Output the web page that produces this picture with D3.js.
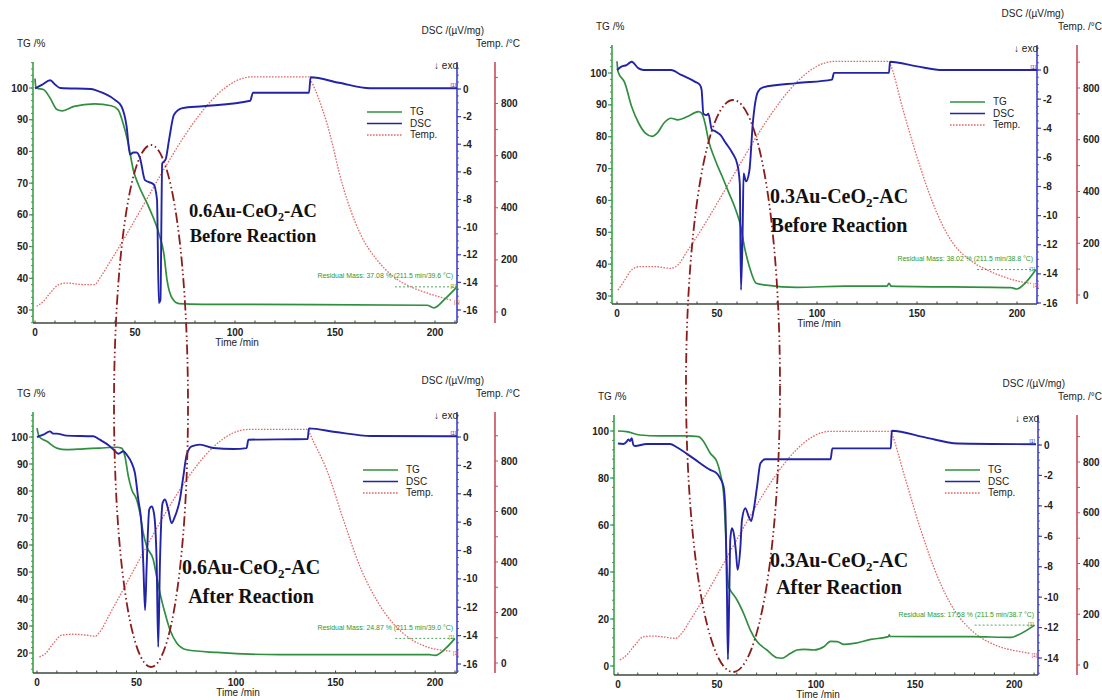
<!DOCTYPE html>
<html lang="en">
<head>
<meta charset="utf-8">
<style>
  body { margin: 0; background: #fff; }
  svg { background: #fff; font-family: Arial, "Liberation Sans", sans-serif; }
  .tick-label { font-size: 10px; font-weight: bold; fill: #222; }
  .axis-title { font-size: 10px; fill: #222; }
  .legend-text { font-size: 10px; fill: #222; }
  .title { font-family: "Liberation Serif", "Times New Roman", serif; font-weight: bold; fill: #111; }
  .residual { font-size: 6.9px; fill: #2a9a2a; }
</style>
<script src="https://d3js.org/d3.v7.min.js"></script>
</head>
<body>
<script>
// ---- data: [time /min, value] ----
var timeTicks = [0, 50, 100, 150, 200];
var tempTicks = [0, 200, 400, 600, 800];
var tgTicks06b = [30, 40, 50, 60, 70, 80, 90, 100];
var tgTicks03b = [30, 40, 50, 60, 70, 80, 90, 100];
var tgTicks06a = [20, 30, 40, 50, 60, 70, 80, 90, 100];
var tgTicks03a = [0, 20, 40, 60, 80, 100];
var dscTicks16 = [0, -2, -4, -6, -8, -10, -12, -14, -16];
var dscTicks14 = [0, -2, -4, -6, -8, -10, -12, -14];
var legendNames = ["TG", "DSC", "Temp."];

// 0.6Au-CeO2-AC before reaction
var tg06b = [[0,103],[0.5,100],[4.2,99.5],[7.6,96.8],[11,93.2],[13.6,92.8],[19.5,94.2],[29.7,95],[38.1,94.4],[41.5,93.2],[44,89],[46.6,82.6],[49.2,74],[51.7,69.5],[56.8,62.6],[61.9,54.2],[64.4,47.9],[66,39.5],[68.6,33.7],[72,32],[84,31.8],[140,31.7],[196,31.5],[199.5,30.7],[205,33.5],[211,37.3]];
var dsc06b = [[0,0.05],[3.4,0.3],[7.6,0.63],[10.2,0.3],[12.7,0.07],[28,0],[30.5,-0.1],[39.8,-0.77],[43.2,-1.25],[45.8,-2.7],[47.5,-4.75],[49.2,-4.6],[50.8,-4.6],[52.5,-5],[55,-6.6],[59.3,-6.9],[61,-8],[61.9,-15.5],[62.7,-15.3],[63.6,-5.4],[65.3,-5.1],[67,-3.7],[69.5,-1.86],[73.7,-1.38],[84,-1.25],[107.6,-0.85],[109,-0.27],[137,-0.27],[137.8,0.85],[152,0.45],[167.5,0.05],[211,0.05]];
var temp06b = [[0.8,22],[4.2,41],[7.6,73],[11.9,105],[16.1,111],[24.6,105],[29.7,105],[33,137],[38.1,200],[108.5,902],[137,902],[137.5,895],[146,723],[154,481],[162.5,302],[171,200],[179,137],[187.5,98],[196,73],[204,54],[208.5,45]];

// 0.3Au-CeO2-AC before reaction
var tg03b = [[0,103.7],[0.5,100.5],[3.9,96.9],[7.3,89.5],[10.8,84.3],[14.2,81.1],[17.6,80.1],[20.1,81.1],[23.5,84.3],[27,85.8],[30.4,85.3],[35.5,86.4],[40.6,87.9],[42.3,87.4],[44,84.3],[45.7,79],[49.1,72.7],[52.6,67.5],[56,62.3],[59.4,57],[61.9,51.8],[63.7,45.5],[66.2,39.2],[69.6,34],[74.7,33.4],[90,32.7],[114,33.1],[135,33.1],[136,34],[137,33.1],[197,32.6],[200,32.2],[204,34],[209.5,38.3]];
var dsc03b = [[0,0],[2.2,0.23],[4.8,0.34],[7.3,0.57],[10.8,0.11],[13.3,0],[27,0],[32.1,-0.34],[38.9,-0.8],[41.5,-1.03],[42.3,-1.37],[43.2,-3],[44.9,-3.1],[45.7,-3],[47.4,-4.1],[49.1,-4.2],[51.7,-4.46],[54.3,-5],[57.7,-5.7],[60.2,-6.5],[61.4,-7.8],[62,-15.1],[62.8,-11.2],[63.3,-7.1],[64.5,-7.65],[66.2,-6.9],[67.9,-3.66],[70.5,-1.49],[73,-1.19],[90,-0.9],[107.5,-0.66],[108.5,-0.2],[136,-0.2],[136.5,0.57],[150,0.25],[163,0],[210,0]];
var temp03b = [[0.5,19],[3.9,58],[7.3,97],[11.6,110],[18.4,110],[27,103],[30.4,116],[35.5,174],[108.9,903],[136,903],[136.5,895],[143,716],[151.5,497],[160,316],[168,200],[176.5,135],[185,97],[193,71],[201.5,52],[207,45]];

// 0.6Au-CeO2-AC after reaction
var tg06a = [[0,103.3],[1.2,100],[4.9,98.4],[9.9,95.9],[14.9,95.3],[23.3,95.6],[31.6,95.9],[40,96.2],[42.5,95.9],[44.2,92.8],[45.9,85.4],[47.6,80.5],[50.1,76.8],[51.7,71.9],[53.4,64.4],[55.1,59.5],[58.4,54.6],[60.1,48.4],[61.8,42.2],[64.3,34.8],[66.8,28.6],[70.2,23.7],[75.2,21.2],[90.3,20.2],[122,19.4],[197,19.4],[200,19.1],[205,21.5],[210,25.4]];
var dsc06a = [[0,0],[3.2,0.16],[6.5,0.4],[8.2,0.24],[9.9,0.24],[14.9,0.1],[28.3,0.05],[31.6,-0.19],[36.7,-0.66],[39.2,-1],[40.9,-1.18],[43.4,-1],[45.1,-1.25],[47.6,-1.84],[49.2,-2.54],[50.9,-4.4],[52.6,-6.3],[53.4,-8.9],[54.3,-12.2],[55.1,-9.1],[56.4,-5.1],[57.6,-4.9],[58.8,-5.4],[60.1,-8.7],[60.9,-14.8],[61.8,-8.7],[63.1,-4.66],[64.3,-4.4],[65.9,-5.1],[67.6,-6.07],[69.3,-5.6],[71.8,-4.4],[73.5,-2.8],[75.2,-1.25],[77.7,-0.66],[81.9,-0.54],[88.6,-0.78],[98.6,-0.85],[105.3,-0.78],[106.2,-0.19],[136,-0.14],[136.6,0.61],[150,0.35],[168,0.07],[211,0.05]];
var temp06a = [[1.2,24],[4.2,37],[8.2,77],[12.4,110],[18.3,114],[25,110],[29.2,106],[31.6,123],[36.7,196],[106.2,925],[136.3,925],[136.8,915],[145.6,764],[154,566],[162.3,381],[170.7,248],[179,156],[187.4,97],[195.8,64],[204,50],[208,47]];

// 0.3Au-CeO2-AC after reaction
var tg03a = [[0,100],[4.4,99.7],[11.1,98.3],[21.3,97.9],[34.7,97.9],[40.7,97.6],[43.2,95.5],[46.6,90.5],[49.9,87],[51.6,82],[53.3,73.5],[54.2,59.3],[55,42.3],[55.8,33.8],[56.7,32.3],[60.1,28.1],[63.4,22.4],[66.8,15.3],[70.2,10.4],[75.2,6.8],[80.3,3.5],[82.8,3.3],[87.1,5.4],[90.4,6.8],[93.8,7.1],[98.9,6.8],[103.9,8.2],[107.3,10.5],[110.7,10.4],[114,9.2],[119,9.6],[127.6,11.3],[136.5,12.5],[136.9,13.3],[137.3,12.6],[153,12.5],[178.2,12.5],[198.5,12.2],[201.9,13.2],[210.3,17.4]];
var dsc03a = [[0,0.1],[2.7,0.07],[4.4,0.22],[5.2,0.37],[6.1,0.26],[6.9,0.44],[7.8,0],[8.6,-0.07],[14.5,0.07],[26.3,0.07],[29.7,-0.15],[38.1,-0.88],[46.6,-1.64],[49.9,-1.86],[51.6,-2.19],[53.3,-2.74],[54.2,-4.27],[55,-9.7],[55.5,-14.1],[56.2,-9.7],[56.7,-6.2],[57.5,-5.47],[58.7,-6],[59.6,-7.1],[60.4,-8.2],[61.8,-6.7],[62.6,-4.9],[64.3,-4.16],[66,-4.7],[67.2,-5],[68.5,-4.27],[70.2,-2.74],[71.9,-1.2],[74.4,-0.94],[88.7,-0.94],[107.3,-0.94],[108.2,-0.22],[137.7,-0.22],[138.2,0.94],[155,0.5],[171.5,0.1],[211,0.05]];
var temp03a = [[1,20],[4.4,39],[8.6,79],[12.8,111],[17.9,114],[24.6,109],[28.9,105],[32.2,125],[36.5,177],[107.3,921],[137.7,921],[138.2,912],[144.5,748],[152.9,531],[161.3,348],[169.8,216],[178.2,138],[186.7,92],[195.1,66],[203.5,52],[207.8,46]];

var residualLabels = [
  "Residual Mass: 37.08 % (211.5 min/39.6 \u00b0C)",
  "Residual Mass: 38.02 % (211.5 min/38.8 \u00b0C)",
  "Residual Mass: 24.87 % (211.5 min/39.0 \u00b0C)",
  "Residual Mass: 17.58 % (211.5 min/38.7 \u00b0C)"
];
var sampleNames = ["0.6Au-CeO", "0.3Au-CeO", "0.6Au-CeO", "0.3Au-CeO"];
var stageNames = ["Before Reaction", "Before Reaction", "After Reaction", "After Reaction"];

// ---- layout ----
var green = "#2f8f3f", blue = "#2323a8", tempRed = "#e46868";
var tgAxisColor = "#3aa04a", dscAxisColor = "#4040c8", tempAxisColor = "#c84c5c";

var panels = [
  { tg: tg06b, dsc: dsc06b, temp: temp06b, tgTicks: tgTicks06b, tgMinor: 2, dscTicks: dscTicks16,
    xRange: [33, 457], xDomain: [-1, 211], tgDomain: [30, 100], tgRange: [310, 88],
    dscDomain: [0, -16], dscRange: [89, 310], tempRange: [312, 103.5], top: 62, bottom: 323, tempX: 495,
    legend: [367, 115], title: [253, 217, 242], titleSize: 18.5 },
  { tg: tg03b, dsc: dsc03b, temp: temp03b, tgTicks: tgTicks03b, tgMinor: 2, dscTicks: dscTicks16,
    xRange: [612, 1037], xDomain: [-2.5, 210], tgDomain: [30, 100], tgRange: [296, 73],
    dscDomain: [0, -16], dscRange: [70, 303], tempRange: [295, 88], top: 45, bottom: 304, tempX: 1077,
    legend: [950, 105], title: [839, 203, 232], titleSize: 20 },
  { tg: tg06a, dsc: dsc06a, temp: temp06a, tgTicks: tgTicks06a, tgMinor: 2, dscTicks: dscTicks16,
    xRange: [33, 457], xDomain: [-2, 211], tgDomain: [20, 100], tgRange: [653, 437],
    dscDomain: [0, -16], dscRange: [437, 664], tempRange: [663, 461], top: 412, bottom: 673, tempX: 495,
    legend: [363, 473], title: [251, 574, 603], titleSize: 20 },
  { tg: tg03a, dsc: dsc03a, temp: temp03a, tgTicks: tgTicks03a, tgMinor: 4, dscTicks: dscTicks14,
    xRange: [614, 1038], xDomain: [-2, 212], tgDomain: [0, 100], tgRange: [666, 431],
    dscDomain: [0, -14], dscRange: [445, 658], tempRange: [665, 462], top: 415, bottom: 675, tempX: 1077,
    legend: [945, 473], title: [839, 567, 594], titleSize: 20 }
];

var svg = d3.select("body").append("svg")
  .attr("width", 1102)
  .attr("height", 700);

panels.forEach(function(p, i) {
  var g = svg.append("g");
  var x = d3.scaleLinear().domain(p.xDomain).range(p.xRange);
  var yTG = d3.scaleLinear().domain(p.tgDomain).range(p.tgRange);
  var yDSC = d3.scaleLinear().domain(p.dscDomain).range(p.dscRange);
  var yT = d3.scaleLinear().domain([0, 800]).range(p.tempRange);
  var left = p.xRange[0], right = p.xRange[1];

  // axis lines
  g.append("line").attr("x1", left).attr("x2", left).attr("y1", p.top).attr("y2", p.bottom)
    .attr("stroke", tgAxisColor).attr("stroke-width", 1.6);
  g.append("line").attr("x1", right).attr("x2", right).attr("y1", p.top).attr("y2", p.bottom)
    .attr("stroke", dscAxisColor).attr("stroke-width", 1.6);
  g.append("line").attr("x1", p.tempX).attr("x2", p.tempX).attr("y1", p.top).attr("y2", p.bottom)
    .attr("stroke", tempAxisColor).attr("stroke-width", 1.6);
  g.append("line").attr("x1", left).attr("x2", right).attr("y1", p.bottom).attr("y2", p.bottom)
    .attr("stroke", "#3d4a3d").attr("stroke-width", 1.6);

  // TG ticks (left)
  var tgMin = d3.range(yTG.invert(p.bottom), yTG.invert(p.top), 1)
    .map(Math.ceil).filter(function(v) { return v % p.tgMinor === 0; });
  g.selectAll(".tgm").data(tgMin).enter().append("line")
    .attr("x1", left - 2).attr("x2", left).attr("y1", d => yTG(d)).attr("y2", d => yTG(d))
    .attr("stroke", tgAxisColor).attr("stroke-width", 1);
  g.selectAll(".tgM").data(p.tgTicks).enter().append("line")
    .attr("x1", left - 4).attr("x2", left).attr("y1", d => yTG(d)).attr("y2", d => yTG(d))
    .attr("stroke", tgAxisColor).attr("stroke-width", 1.2);
  g.selectAll(".tgl").data(p.tgTicks).enter().append("text")
    .attr("class", "tick-label").attr("x", left - 5).attr("y", d => yTG(d)).attr("dy", "0.35em")
    .attr("text-anchor", "end").text(d => d);

  // DSC ticks (right)
  var dscMin = d3.range(Math.ceil(yDSC.invert(p.bottom) * 2) / 2, yDSC.invert(p.top), 0.5);
  g.selectAll(".dm").data(dscMin).enter().append("line")
    .attr("x1", right).attr("x2", right + 2).attr("y1", d => yDSC(d)).attr("y2", d => yDSC(d))
    .attr("stroke", dscAxisColor).attr("stroke-width", 0.8);
  g.selectAll(".dM").data(p.dscTicks).enter().append("line")
    .attr("x1", right).attr("x2", right + 4).attr("y1", d => yDSC(d)).attr("y2", d => yDSC(d))
    .attr("stroke", dscAxisColor).attr("stroke-width", 1.2);
  g.selectAll(".dl").data(p.dscTicks).enter().append("text")
    .attr("class", "tick-label").attr("x", right + 6).attr("y", d => yDSC(d)).attr("dy", "0.35em")
    .text(d => d);

  // Temp ticks
  var tMin = d3.range(0, Math.floor(yT.invert(p.top) / 100) * 100 + 1, 100);
  g.selectAll(".tm").data(tMin).enter().append("line")
    .attr("x1", p.tempX).attr("x2", p.tempX + 3).attr("y1", d => yT(d)).attr("y2", d => yT(d))
    .attr("stroke", tempAxisColor).attr("stroke-width", 1);
  g.selectAll(".tl").data(tempTicks).enter().append("text")
    .attr("class", "tick-label").attr("x", p.tempX + 6).attr("y", d => yT(d)).attr("dy", "0.35em")
    .text(d => d);

  // time ticks
  var tMinor = d3.range(0, x.domain()[1], 10);
  g.selectAll(".xm").data(tMinor).enter().append("line")
    .attr("x1", d => x(d)).attr("x2", d => x(d)).attr("y1", p.bottom).attr("y2", p.bottom - 2.5)
    .attr("stroke", "#3d4a3d").attr("stroke-width", 1);
  g.selectAll(".xl").data(timeTicks).enter().append("text")
    .attr("class", "tick-label").attr("x", d => x(d)).attr("y", p.bottom + 13)
    .attr("text-anchor", "middle").text(d => d);
  g.append("text").attr("class", "axis-title").attr("x", x(101)).attr("y", p.bottom + 23)
    .attr("text-anchor", "middle").text("Time /min");

  // axis titles
  g.append("text").attr("class", "axis-title").attr("x", left - 16).attr("y", p.top - 15).text("TG /%");
  g.append("text").attr("class", "axis-title").attr("x", right + 27).attr("y", p.top - 28)
    .attr("text-anchor", "end").text("DSC /(\u00b5V/mg)");
  g.append("text").attr("class", "axis-title").attr("x", p.tempX + 25).attr("y", p.top - 15)
    .attr("text-anchor", "end").text("Temp. /\u00b0C");
  g.append("text").attr("class", "axis-title").attr("x", right + 1).attr("y", p.top + 7)
    .attr("text-anchor", "end").text("\u2193 exo");

  // curves
  var lineOf = function(ys) {
    return d3.line().x(d => x(d[0])).y(d => ys(d[1])).curve(d3.curveMonotoneX);
  };
  g.append("path").attr("d", lineOf(yT)(p.temp)).attr("fill", "none")
    .attr("stroke", tempRed).attr("stroke-width", 1.3).attr("stroke-dasharray", "1.6,1.4");
  g.append("path").attr("d", lineOf(yTG)(p.tg)).attr("fill", "none")
    .attr("stroke", green).attr("stroke-width", 1.7);
  g.append("path").attr("d", lineOf(yDSC)(p.dsc)).attr("fill", "none")
    .attr("stroke", blue).attr("stroke-width", 1.9);

  // residual mass marker
  var last = p.tg[p.tg.length - 1];
  g.append("line").attr("x1", x(180)).attr("x2", x(last[0])).attr("y1", yTG(last[1])).attr("y2", yTG(last[1]))
    .attr("stroke", green).attr("stroke-width", 0.8).attr("stroke-dasharray", "2,2");
  g.append("text").attr("class", "residual").attr("x", right - 4).attr("y", yTG(last[1]) - 8.5)
    .attr("text-anchor", "end").text(residualLabels[i]);
  g.append("text").attr("x", x(last[0]) - 1).attr("y", yTG(last[1]) + 1).attr("text-anchor", "end")
    .style("font-size", "5px").attr("fill", green).text("[1]");
  var lastT = p.temp[p.temp.length - 1];
  g.append("text").attr("x", x(lastT[0]) + 2).attr("y", yT(lastT[1]) + 4).attr("text-anchor", "start")
    .style("font-size", "5px").attr("fill", "#d04040").text("[1]");
  var lastD = p.dsc[p.dsc.length - 1];
  g.append("text").attr("x", x(lastD[0]) - 1).attr("y", yDSC(lastD[1]) - 1).attr("text-anchor", "end")
    .style("font-size", "5px").attr("fill", blue).text("[1]");

  // legend
  var lg = g.append("g").attr("transform", "translate(" + p.legend[0] + "," + p.legend[1] + ")");
  var styles = [[green, null], [blue, null], [tempRed, "1.6,1.4"]];
  legendNames.forEach(function(name, k) {
    lg.append("line").attr("x1", 0).attr("x2", 35).attr("y1", k * 11.5 - 3).attr("y2", k * 11.5 - 3)
      .attr("stroke", styles[k][0]).attr("stroke-width", 1.3).attr("stroke-dasharray", styles[k][1]);
    lg.append("text").attr("class", "legend-text").attr("x", 43).attr("y", k * 11.5).text(name);
  });

  // sample title
  var t1 = g.append("text").attr("class", "title").attr("x", p.title[0]).attr("y", p.title[1])
    .attr("text-anchor", "middle").style("font-size", p.titleSize + "px");
  t1.append("tspan").text(sampleNames[i]);
  t1.append("tspan").text("2").style("font-size", (p.titleSize * 0.65) + "px").attr("dy", 4);
  t1.append("tspan").text("-AC").attr("dy", -4);
  g.append("text").attr("class", "title").attr("x", p.title[0]).attr("y", p.title[2])
    .attr("text-anchor", "middle").style("font-size", p.titleSize + "px").text(stageNames[i]);
});

// dash-dot ellipses around the main decomposition region
var ellipses = [[151, 406, 37, 261], [733, 386, 47, 286]];
svg.selectAll(".ring").data(ellipses).enter().append("ellipse")
  .attr("cx", d => d[0]).attr("cy", d => d[1]).attr("rx", d => d[2]).attr("ry", d => d[3])
  .attr("fill", "none").attr("stroke", "#8b1c1c").attr("stroke-width", 1.8)
  .attr("stroke-dasharray", "10,3,1.5,3,1.5,3");
</script>
</body>
</html>
